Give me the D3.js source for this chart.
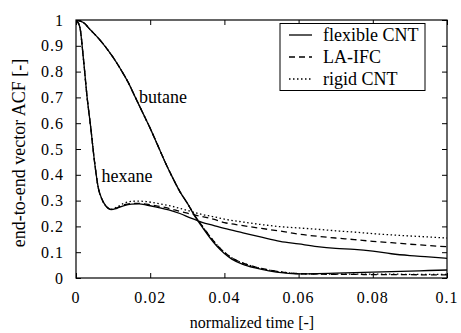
<!DOCTYPE html>
<html><head><meta charset="utf-8">
<script src="https://cdn.jsdelivr.net/npm/d3@7"></script>
<style>
body{margin:0;background:#fff;}
</style></head>
<body><svg id="c" width="461" height="333"></svg>
<script>
// ---- data ----
const hexT       = [0,0.001,0.002,0.003,0.004,0.005,0.006,0.007,0.008,0.0095,0.011,0.013,0.015,0.017,0.019,0.022,0.025,0.028,0.031,0.034,0.037,0.040,0.045,0.050,0.055,0.060,0.065,0.070,0.075,0.080,0.085,0.090,0.095,0.100];
const hexFlex    = [1,0.975,0.85,0.70,0.58,0.45,0.35,0.305,0.28,0.265,0.27,0.281,0.286,0.287,0.283,0.274,0.264,0.250,0.232,0.216,0.204,0.192,0.175,0.158,0.142,0.132,0.122,0.115,0.111,0.104,0.094,0.087,0.082,0.076];
const hexLA      = [1,0.975,0.85,0.70,0.58,0.45,0.35,0.305,0.28,0.266,0.272,0.284,0.289,0.289,0.286,0.279,0.270,0.258,0.248,0.238,0.228,0.215,0.203,0.192,0.182,0.170,0.162,0.155,0.149,0.142,0.137,0.131,0.126,0.121];
const hexRigid   = [1,0.975,0.85,0.70,0.58,0.45,0.35,0.305,0.28,0.267,0.275,0.290,0.297,0.298,0.296,0.289,0.281,0.270,0.258,0.246,0.238,0.228,0.217,0.207,0.199,0.194,0.189,0.183,0.178,0.172,0.167,0.163,0.159,0.155];

const butT       = [0,0.002,0.004,0.006,0.008,0.010,0.012,0.014,0.016,0.018,0.020,0.022,0.024,0.026,0.028,0.030,0.032,0.034,0.036,0.038,0.040,0.042,0.045,0.048,0.052,0.056,0.060,0.065,0.070,0.075,0.080,0.085,0.090,0.095,0.100];
const butFlex    = [1,0.99,0.96,0.93,0.895,0.855,0.81,0.76,0.70,0.64,0.58,0.515,0.45,0.39,0.335,0.29,0.24,0.198,0.158,0.123,0.095,0.073,0.053,0.040,0.028,0.020,0.016,0.017,0.019,0.021,0.023,0.025,0.027,0.029,0.031];
const butLA      = [1,0.99,0.96,0.93,0.895,0.855,0.81,0.76,0.70,0.64,0.58,0.515,0.45,0.39,0.335,0.29,0.243,0.202,0.163,0.128,0.100,0.078,0.058,0.044,0.031,0.022,0.017,0.015,0.014,0.014,0.013,0.013,0.013,0.012,0.012];
const butRigid   = [1,0.99,0.96,0.93,0.895,0.855,0.81,0.76,0.70,0.64,0.58,0.515,0.45,0.39,0.335,0.29,0.243,0.202,0.163,0.128,0.100,0.078,0.058,0.044,0.031,0.022,0.017,0.016,0.015,0.015,0.015,0.015,0.014,0.014,0.014];

const xTicks = [0,0.02,0.04,0.06,0.08,0.1];
const xTickLabels = ["0","0.02","0.04","0.06","0.08","0.1"];
const yTicks = [0,0.1,0.2,0.3,0.4,0.5,0.6,0.7,0.8,0.9,1];
const yTickLabels = ["0","0.1","0.2","0.3","0.4","0.5","0.6","0.7","0.8","0.9","1"];
const legendLabels = ["flexible CNT","LA-IFC","rigid CNT"];
const curveLabels = [{text:"butane", t:0.0170, v:0.677},{text:"hexane", t:0.00685, v:0.373}];

// ---- drawing ----
const FONT = "'Liberation Serif', Tinos, 'Times New Roman', Times, 'DejaVu Serif', serif";
const svg = d3.select("#c");
const L=76, R=447, T=20, B=278;
const x = d3.scaleLinear().domain([0,0.1]).range([L,R]);
const y = d3.scaleLinear().domain([0,1]).range([B,T]);

const styles = [
  {dash:null},
  {dash:"6,4"},
  {dash:"1.5,2.5"}
];

const series = [
  {t:hexT, v:hexFlex, s:0},{t:hexT, v:hexLA, s:1},{t:hexT, v:hexRigid, s:2},
  {t:butT, v:butFlex, s:0},{t:butT, v:butLA, s:1},{t:butT, v:butRigid, s:2}
];
const line = d3.line().x(d=>x(d[0])).y(d=>y(d[1])).curve(d3.curveMonotoneX);
svg.append("clipPath").attr("id","pc").append("rect").attr("x",L).attr("y",T).attr("width",R-L).attr("height",B-T);
const g = svg.append("g").attr("clip-path","url(#pc)");
series.slice().reverse().forEach(sr=>{
  g.append("path").attr("d", line(sr.t.map((t,i)=>[t,sr.v[i]])))
   .attr("fill","none").attr("stroke","#000").attr("stroke-width",1.3)
   .attr("stroke-dasharray", styles[sr.s].dash);
});

// axes (ticks inward on all four sides)
const tl=5;
const axB = d3.axisBottom(x).tickValues(xTicks).tickSize(-tl).tickFormat("");
const axT = d3.axisTop(x).tickValues(xTicks).tickSize(-tl).tickFormat("");
const axL = d3.axisLeft(y).tickValues(yTicks).tickSize(-tl).tickFormat("");
const axR = d3.axisRight(y).tickValues(yTicks).tickSize(-tl).tickFormat("");
[[axB,`translate(0,${B})`],[axT,`translate(0,${T})`],[axL,`translate(${L},0)`],[axR,`translate(${R},0)`]].forEach(([a,tr])=>{
  const ga = svg.append("g").attr("transform",tr).call(a);
  ga.select(".domain").remove();
  ga.selectAll("line").attr("stroke","#000").attr("stroke-width",1);
});
svg.append("rect").attr("x",L).attr("y",T).attr("width",R-L).attr("height",B-T)
  .attr("fill","none").attr("stroke","#000").attr("stroke-width",1.2);

// tick labels
svg.append("g").selectAll("text").data(xTicks).join("text")
  .attr("x",d=>x(d)).attr("y",303).attr("text-anchor","middle")
  .attr("font-family",FONT).attr("font-size",16).attr("letter-spacing","1px")
  .text((d,i)=>xTickLabels[i]);
svg.append("g").selectAll("text").data(yTicks).join("text")
  .attr("x",64).attr("y",d=>y(d)+5.5).attr("text-anchor","end")
  .attr("font-family",FONT).attr("font-size",16).attr("letter-spacing","1px")
  .text((d,i)=>yTickLabels[i]);

// axis titles
svg.append("text").attr("x",252).attr("y",328).attr("text-anchor","middle")
  .attr("font-family",FONT).attr("font-size",16).text("normalized time [-]");
svg.append("text").attr("transform","translate(25,153) rotate(-90)").attr("text-anchor","middle")
  .attr("font-family",FONT).attr("font-size",18).text("end-to-end vector ACF [-]");

// curve labels
curveLabels.forEach(c=>{
  svg.append("text").attr("x",x(c.t)).attr("y",y(c.v)).attr("font-family",FONT).attr("font-size",18).text(c.text);
});

// legend
const lg = svg.append("g");
lg.append("rect").attr("x",280).attr("y",23.5).attr("width",145).attr("height",67)
  .attr("fill","#fff").attr("stroke","#000").attr("stroke-width",1);
legendLabels.forEach((lab,i)=>{
  const yy = 35 + i*22;
  lg.append("line").attr("x1",289).attr("x2",312).attr("y1",yy).attr("y2",yy)
    .attr("stroke","#000").attr("stroke-width",1.3).attr("stroke-dasharray",styles[i].dash);
  lg.append("text").attr("x",323).attr("y",yy+5.5).attr("font-family",FONT).attr("font-size",18).text(lab);
});
</script></body></html>
